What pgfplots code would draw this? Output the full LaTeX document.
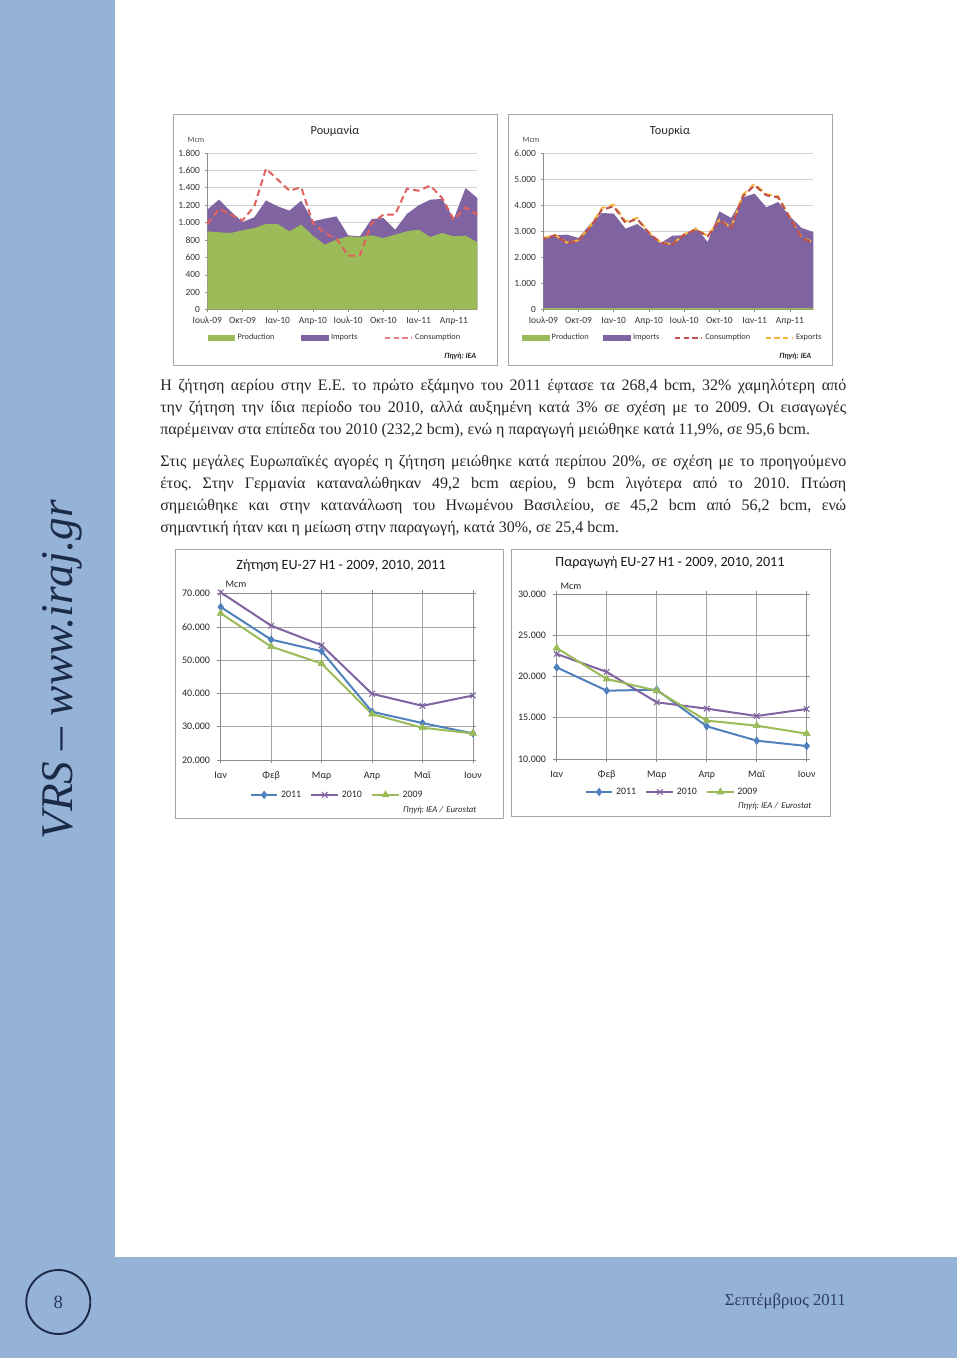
\documentclass[border=0pt]{standalone}
\usepackage{fontspec}
\setmainfont{Liberation Serif}
\newfontfamily\carlito{Carlito}
\usepackage{pgfplots}
\pgfplotsset{compat=1.18}
\frenchspacing
\definecolor{side}{HTML}{95B3D7}
\definecolor{navy}{HTML}{1B2A47}
\definecolor{navyb}{HTML}{2E3B5C}
\definecolor{prodg}{HTML}{9BBB59}
\definecolor{impp}{HTML}{8064A2}
\definecolor{consr}{HTML}{E0605E}
\definecolor{consr2}{HTML}{C0504D}
\definecolor{expy}{HTML}{F7B538}
\definecolor{b11}{HTML}{4F81BD}
\definecolor{p10}{HTML}{8064A2}
\definecolor{g09}{HTML}{9BBB59}
\pgfplotsset{
  smallchart/.style={
    scale only axis, anchor=south west,
    axis x line*=bottom, axis y line*=left,
    axis line style={draw=black!45, line width=0.5pt},
    ymajorgrids, grid style={draw=black!18, line width=0.5pt},
    tick style={draw=black!45, line width=0.5pt},
    tick align=outside, major tick length=2pt,
    xmin=0, xmax=23,
    xtick={0,3,...,21},
    xticklabels={Ιουλ-09,Οκτ-09,Ιαν-10,Απρ-10,Ιουλ-10,Οκτ-10,Ιαν-11,Απρ-11},
    tick label style={font=\carlito\fontsize{7.1}{8}\selectfont, text=black!80},
    scaled y ticks=false,
    /pgf/number format/1000 sep={.},
    /pgf/number format/assume math mode=true,
    legend style={draw=none, fill=none, font=\carlito\fontsize{6.2}{7}\selectfont, text=black!80, anchor=center},
    legend cell align=left,
    clip=false,
  },
  linechart/.style={
    scale only axis, anchor=south west,
    xmin=0, xmax=5, xtick={0,...,5},
    xticklabels={Ιαν,Φεβ,Μαρ,Απρ,Μαϊ,Ιουν},
    grid=major, grid style={draw=black!35, line width=0.5pt},
    axis line style={draw=black!45, line width=0.5pt},
    tick style={draw=black!45, line width=0.5pt},
    tick align=outside, major tick length=2.5pt,
    tick label style={font=\carlito\fontsize{7.5}{9}\selectfont, text=black!85},
    xticklabel style={yshift=-3pt},
    yticklabel style={xshift=-2pt},
    scaled y ticks=false,
    /pgf/number format/1000 sep={.},
    /pgf/number format/assume math mode=true,
    legend style={draw=none, fill=none, font=\carlito\fontsize{7.4}{9}\selectfont, text=black!85, anchor=center, legend columns=-1,
      /tikz/every even column/.append style={column sep=5pt}},
    legend cell align=left,
    clip=false,
  },
}
\begin{document}
\begin{tikzpicture}[x=0.75pt,y=0.75pt]
\useasboundingbox (0,0) rectangle (960,1358);
\fill[white] (0,0) rectangle (960,1358);
% sidebar and bottom band
\fill[side] (0,0) rectangle (115,1358);
\fill[side] (0,0) rectangle (957,101);
\node[rotate=90, anchor=base, font=\fontsize{34}{40}\selectfont\itshape, text=navy, inner sep=0pt] at (72,688) {VRS – www.iraj.gr};
\draw[navy, line width=1.4pt] (58.3,56) circle[radius=24pt];
\node[font=\fontsize{14}{16}\selectfont, text=navyb] at (58.3,56) {8};
\node[anchor=base east, font=\fontsize{12.5}{15}\selectfont, text=navyb, inner sep=0pt] at (846,52) {Σεπτέμβριος 2011};

% chart frames
\draw[black!35, line width=0.6pt] (173,993) rectangle (497,1244);
\draw[black!35, line width=0.6pt] (508,993) rectangle (832,1244);
\draw[black!35, line width=0.6pt] (175,540) rectangle (503,809);
\draw[black!35, line width=0.6pt] (511,542) rectangle (830,809);

% ---------------- Romania
\node[font=\carlito\fontsize{9.2}{11}\selectfont, text=black!85] at (335,1227) {Ρουμανία};
\node[font=\carlito\fontsize{6}{7}\selectfont, text=black!70] at (196,1218) {Mcm};
\node[anchor=east, font=\carlito\bfseries\itshape\fontsize{6}{7}\selectfont, text=black!85] at (481,1002) {Πηγή: IEA};
\begin{axis}[smallchart, at={(155.475pt,786.225pt)}, width=202.5pt, height=117.5pt,
  ymin=0, ymax=1800, ytick={0,200,...,1800},
  legend style={at={(0.474,-0.178)}, legend columns=-1,
    /tikz/every even column/.append style={column sep=18pt}}]
\addplot[fill=impp, draw=none, forget plot] coordinates {
(0,1150) (1,1264) (2,1130) (3,1007) (4,1061) (5,1256) (6,1187) (7,1138) (8,1252) (9,1015) (10,1046) (11,1072)
(12,854) (13,843) (14,1042) (15,1053) (16,919) (17,1099) (18,1199) (19,1264) (20,1272) (21,1045) (22,1398) (23,1283)} \closedcycle;
\addplot[fill=prodg, draw=none, forget plot] coordinates {
(0,900) (1,889) (2,881) (3,912) (4,938) (5,984) (6,984) (7,900) (8,977) (9,850) (10,747) (11,804)
(12,843) (13,835) (14,854) (15,823) (16,862) (17,900) (18,919) (19,835) (20,881) (21,843) (22,850) (23,774)} \closedcycle;
\addplot[consr, dash pattern=on 5pt off 3pt, line width=1.5pt, forget plot] coordinates {
(0,984) (1,1160) (2,1092) (3,1026) (4,1187) (5,1620) (6,1494) (7,1367) (8,1406) (9,996) (10,881) (11,816)
(12,620) (13,624) (14,990) (15,1092) (16,1092) (17,1390) (18,1367) (19,1425) (20,1283) (21,1034) (22,1176) (23,1092)};
\addlegendimage{legend image code/.code={\fill[prodg] (0pt,-2pt) rectangle (20pt,2pt);}}
\addlegendentry{Production}
\addlegendimage{legend image code/.code={\fill[impp] (0pt,-2pt) rectangle (20pt,2pt);}}
\addlegendentry{Imports}
\addlegendimage{legend image code/.code={\draw[consr!80, dash pattern=on 4pt off 2.5pt, line width=1.4pt] (0pt,0pt) -- (20pt,0pt);}}
\addlegendentry{Consumption}
\end{axis}

% ---------------- Turkey
\node[font=\carlito\fontsize{9.2}{11}\selectfont, text=black!85] at (670,1227) {Τουρκία};
\node[font=\carlito\fontsize{6}{7}\selectfont, text=black!70] at (531,1218) {Mcm};
\node[anchor=east, font=\carlito\bfseries\itshape\fontsize{6}{7}\selectfont, text=black!85] at (816,1002) {Πηγή: IEA};
\begin{axis}[smallchart, at={(407.475pt,786.225pt)}, width=202.5pt, height=117.5pt,
  ymin=0, ymax=6000, ytick={0,1000,...,6000},
  legend style={at={(0.48,-0.178)}, legend columns=-1,
    /tikz/every even column/.append style={column sep=9pt}}]
\addplot[fill=impp, draw=none, forget plot] coordinates {
(0,2771) (1,2848) (2,2873) (3,2746) (4,3282) (5,3703) (6,3678) (7,3103) (8,3282) (9,2937) (10,2554) (11,2835)
(12,2848) (13,3154) (14,2592) (15,3767) (16,3512) (17,4303) (18,4444) (19,3920) (20,4125) (21,3576) (22,3129) (23,2975)} \closedcycle;
\addplot[fill=prodg, draw=none, forget plot] coordinates {
(0,60) (1,60) (2,60) (3,60) (4,60) (5,60) (6,60) (7,60) (8,60) (9,60) (10,60) (11,60)
(12,60) (13,60) (14,60) (15,60) (16,60) (17,60) (18,60) (19,60) (20,60) (21,60) (22,60) (23,60)} \closedcycle;
\addplot[expy, dash pattern=on 5pt off 3pt, line width=1.5pt, forget plot] coordinates {
(0,2740) (1,2860) (2,2570) (3,2660) (4,3200) (5,3895) (6,4022) (7,3384) (8,3512) (9,2950) (10,2570) (11,2510)
(12,2885) (13,3090) (14,2830) (15,3440) (16,3150) (17,4405) (18,4814) (19,4420) (20,4340) (21,3540) (22,2770) (23,2575)};
\addplot[consr2, dash pattern=on 5pt off 3pt, dash phase=3pt, line width=1.5pt, forget plot] coordinates {
(0,2720) (1,2848) (2,2554) (3,2643) (4,3154) (5,3831) (6,3959) (7,3320) (8,3473) (9,2937) (10,2554) (11,2490)
(12,2873) (13,3065) (14,2809) (15,3410) (16,3129) (17,4342) (18,4763) (19,4380) (20,4303) (21,3512) (22,2746) (23,2554)};
\addlegendimage{legend image code/.code={\fill[prodg] (0pt,-2pt) rectangle (20pt,2pt);}}
\addlegendentry{Production}
\addlegendimage{legend image code/.code={\fill[impp] (0pt,-2pt) rectangle (20pt,2pt);}}
\addlegendentry{Imports}
\addlegendimage{legend image code/.code={\draw[consr2, dash pattern=on 4pt off 2.5pt, line width=1.4pt] (0pt,0pt) -- (20pt,0pt);}}
\addlegendentry{Consumption}
\addlegendimage{legend image code/.code={\draw[expy, dash pattern=on 4pt off 2.5pt, line width=1.4pt] (0pt,0pt) -- (20pt,0pt);}}
\addlegendentry{Exports}
\end{axis}

% ---------------- body text
\node[anchor=north west, inner sep=0pt, text width=514.5pt, align=justify, font=\fontsize{12}{16.5}\selectfont, text=black!85] at (160,979) {%
\setlength\parindent{0pt}\hbadness=10000
Η ζήτηση αερίου στην Ε.Ε. το πρώτο εξάμηνο του 2011 έφτασε τα 268,4 bcm, 32\% χαμηλότερη από\linebreak
την ζήτηση την ίδια περίοδο του 2010, αλλά αυξημένη κατά 3\% σε σχέση με το 2009. Οι εισαγωγές\linebreak
παρέμειναν στα επίπεδα του 2010 (232,2 bcm), ενώ η παραγωγή μειώθηκε κατά 11,9\%, σε 95,6 bcm.\par
\vspace{7.5pt}
Στις μεγάλες Ευρωπαϊκές αγορές η ζήτηση μειώθηκε κατά περίπου 20\%, σε σχέση με το προηγούμενο\linebreak
έτος. Στην Γερμανία καταναλώθηκαν 49,2 bcm αερίου, 9 bcm λιγότερα από το 2010. Πτώση\linebreak
σημειώθηκε και στην κατανάλωση του Ηνωμένου Βασιλείου, σε 45,2 bcm από 56,2 bcm, ενώ\linebreak
σημαντική ήταν και η μείωση στην παραγωγή, κατά 30\%, σε 25,4 bcm.\par
};

% ---------------- EU-27 demand
\node[font=\carlito\fontsize{10.6}{12}\selectfont, text=black!90] at (341,792) {Ζήτηση EU-27 H1 - 2009, 2010, 2011};
\node[font=\carlito\fontsize{7.5}{9}\selectfont, text=black!85] at (236,774) {Mcm};
\node[anchor=east, font=\carlito\itshape\fontsize{6.6}{8}\selectfont, text=black!85] at (481,548) {Πηγή: IEA /\, Eurostat};
\begin{axis}[linechart, at={(165.525pt,448.5pt)}, width=189.2pt, height=124.7pt,
  ymin=20000, ymax=70000, ytick={20000,30000,...,70000},
  legend style={at={(0.463,-0.21)}},
  legend image code/.code={\draw[mark repeat=2,mark phase=2,#1] plot coordinates {(0pt,0pt) (10pt,0pt) (20pt,0pt)};}]
\addplot[b11, line width=1.5pt, mark=diamond*, mark size=2.8pt, mark options={fill=b11, line width=0.5pt}] coordinates {
(0,66000) (1,56200) (2,52700) (3,34500) (4,31100) (5,28000)};
\addlegendentry{2011}
\addplot[p10, line width=1.5pt, mark=x, mark size=3pt, mark options={line width=0.8pt}] coordinates {
(0,70400) (1,60400) (2,54500) (3,39900) (4,36300) (5,39400)};
\addlegendentry{2010}
\addplot[g09, line width=1.5pt, mark=triangle*, mark size=3pt, mark options={fill=g09, line width=0.5pt}] coordinates {
(0,64100) (1,54100) (2,49000) (3,33800) (4,29700) (5,28000)};
\addlegendentry{2009}
\end{axis}

% ---------------- EU-27 production
\node[font=\carlito\fontsize{10.6}{12}\selectfont, text=black!90] at (670,795) {Παραγωγή EU-27 H1 - 2009, 2010, 2011};
\node[font=\carlito\fontsize{7.5}{9}\selectfont, text=black!85] at (571,772) {Mcm};
\node[anchor=east, font=\carlito\itshape\fontsize{6.6}{8}\selectfont, text=black!85] at (816,552) {Πηγή: IEA /\, Eurostat};
\begin{axis}[linechart, at={(417.525pt,449.25pt)}, width=187.5pt, height=123.75pt,
  ymin=10000, ymax=30000, ytick={10000,15000,...,30000},
  legend style={at={(0.463,-0.2)}},
  legend image code/.code={\draw[mark repeat=2,mark phase=2,#1] plot coordinates {(0pt,0pt) (10pt,0pt) (20pt,0pt)};}]
\addplot[b11, line width=1.5pt, mark=diamond*, mark size=2.8pt, mark options={fill=b11, line width=0.5pt}] coordinates {
(0,21100) (1,18280) (2,18400) (3,13960) (4,12220) (5,11570)};
\addlegendentry{2011}
\addplot[p10, line width=1.5pt, mark=x, mark size=3pt, mark options={line width=0.8pt}] coordinates {
(0,22730) (1,20550) (2,16870) (3,16100) (4,15210) (5,16060)};
\addlegendentry{2010}
\addplot[g09, line width=1.5pt, mark=triangle*, mark size=3pt, mark options={fill=g09, line width=0.5pt}] coordinates {
(0,23450) (1,19700) (2,18280) (3,14650) (4,14040) (5,13070)};
\addlegendentry{2009}
\end{axis}
\end{tikzpicture}
\end{document}
